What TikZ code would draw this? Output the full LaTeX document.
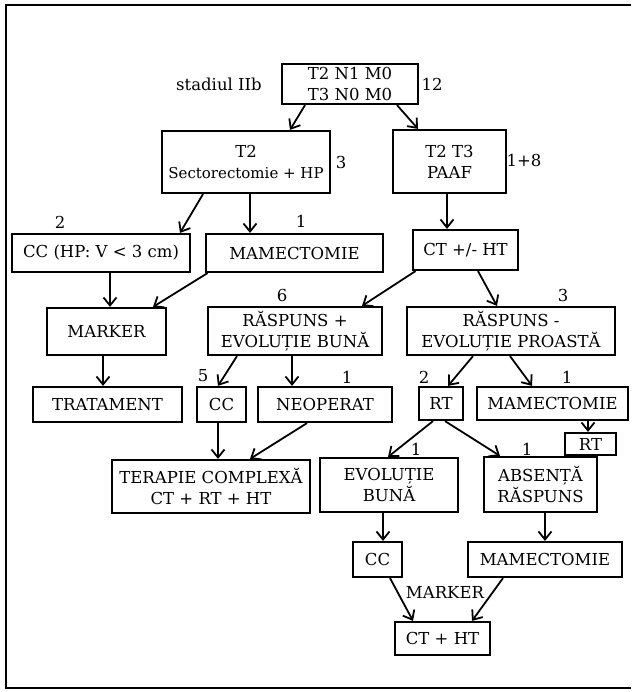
\documentclass[tikz,border=0pt]{standalone}
\usepackage{fontspec}
\setmainfont{DejaVu Serif}
\usetikzlibrary{arrows.meta}
\tikzset{
  box/.style={draw, line width=2.2pt, inner sep=0pt, align=center, font=\fontsize{16.5}{21}\selectfont},
  arr/.style={line width=1.8pt, -{Straight Barb[length=8pt,width=13pt,line width=1.8pt]}},
  num/.style={font=\fontsize{16.5}{18}\selectfont, inner sep=0pt},
  frame/.style={line width=2.2pt}
}
\begin{document}
\begin{tikzpicture}[x=1pt,y=-1pt]
\useasboundingbox (0,0) rectangle (631,692);
\coordinate (f1) at (631,5);
\coordinate (f2) at (6,5);
\coordinate (f3) at (6,688);
\coordinate (f4) at (631,688);
\draw[frame] (f1) -- (f2) -- (f3) -- (f4);

\node[box, minimum width=136, minimum height=40] (top) at (350,84) {T2 N1 M0\\T3 N0 M0};
\node[box, minimum width=168, minimum height=62] (sect) at (246,162) {T2\\{\fontsize{15}{21}\selectfont Sectorectomie + HP}};
\node[box, minimum width=113, minimum height=63] (paaf) at (449.5,161.5) {T2 T3\\PAAF};
\node[box, minimum width=178, minimum height=38] (cc1) at (101,253) {CC (HP: V < 3 cm)};
\node[box, minimum width=177, minimum height=38] (mam1) at (294.5,253) {MAMECTOMIE};
\node[box, minimum width=105, minimum height=40] (ct) at (465.5,250) {CT +/- HT};
\node[box, minimum width=119, minimum height=47] (marker) at (106.5,331.5) {MARKER};
\node[box, minimum width=174, minimum height=48] (rp) at (295,331) {RĂSPUNS +\\EVOLUȚIE BUNĂ};
\node[box, minimum width=208, minimum height=48] (rm) at (511,331) {RĂSPUNS -\\EVOLUȚIE PROASTĂ};
\node[box, minimum width=149, minimum height=35] (trat) at (107.5,404.5) {TRATAMENT};
\node[box, minimum width=49, minimum height=35] (cc2) at (221.5,404.5) {CC};
\node[box, minimum width=134, minimum height=35] (neo) at (325,404.5) {NEOPERAT};
\node[box, minimum width=44, minimum height=33] (rt) at (441,403.5) {RT};
\node[box, minimum width=151, minimum height=33] (mam2) at (552.5,403.5) {MAMECTOMIE};
\node[box, minimum width=51, minimum height=22] (rts) at (590.5,444) {RT};
\node[box, minimum width=198, minimum height=53] (ter) at (211,486.5) {TERAPIE COMPLEXĂ\\CT + RT + HT};
\node[box, minimum width=138, minimum height=54] (evo) at (389,485) {EVOLUȚIE\\BUNĂ};
\node[box, minimum width=113, minimum height=55] (abs) at (540.5,484.5) {ABSENȚĂ\\RĂSPUNS};
\node[box, minimum width=49, minimum height=35] (cc3) at (377.5,559.5) {CC};
\node[box, minimum width=154, minimum height=35] (mam3) at (545,559.5) {MAMECTOMIE};
\node[box, minimum width=95, minimum height=33] (cth) at (442.5,638.5) {CT + HT};

\node[num] (stad) at (219,84) {stadiul IIb};
\node[num] (n12) at (432,84) {12};
\node[num] (n3a) at (341,162) {3};
\node[num] (n18) at (524,160) {1+8};
\node[num] (n2a) at (60,222) {2};
\node[num] (n1a) at (301,221) {1};
\node[num] (n6) at (282,295) {6};
\node[num] (n3b) at (563,295) {3};
\node[num] (n5) at (203,376) {5};
\node[num] (n1b) at (347,377) {1};
\node[num] (n2b) at (424,377) {2};
\node[num] (n1c) at (567,377) {1};
\node[num] (n1d) at (416,449) {1};
\node[num] (n1e) at (527,449) {1};
\node[num] (mk) at (445,592) {MARKER};

\draw[arr] ([xshift=-45pt]top.south) -- ([xshift=44pt]sect.north);
\draw[arr] ([xshift=47pt]top.south) -- ([xshift=-31.5pt]paaf.north);
\draw[arr] ([xshift=-43pt]sect.south) -- ([xshift=79pt]cc1.north);
\draw[arr] ([xshift=4pt]sect.south) -- ([xshift=4pt]sect.south |- mam1.north);
\draw[arr] ([xshift=-2.5pt]paaf.south) -- ([xshift=-2.5pt]paaf.south |- ct.north);
\draw[arr] ([xshift=9pt]cc1.south) -- ([xshift=9pt]cc1.south |- marker.north);
\draw[arr] ([xshift=-87pt]mam1.south) -- ([xshift=46.5pt]marker.north);
\draw[arr] ([xshift=-50pt]ct.south) -- ([xshift=67pt]rp.north);
\draw[arr] ([xshift=12.5pt]ct.south) -- ([xshift=-14pt]rm.north);
\draw[arr] ([xshift=-3.5pt]marker.south) -- ([xshift=-3.5pt]marker.south |- trat.north);
\draw[arr] ([xshift=-58pt]rp.south) -- ([xshift=-3.5pt]cc2.north);
\draw[arr] ([xshift=-3pt]rp.south) -- ([xshift=-3pt]rp.south |- neo.north);
\draw[arr] ([xshift=-38pt]rm.south) -- ([xshift=7pt]rt.north);
\draw[arr] ([xshift=-1pt]rm.south) -- ([xshift=-20.5pt]mam2.north);
\draw[arr] ([xshift=35.5pt]mam2.south) -- ([xshift=35.5pt]mam2.south |- rts.north);
\draw[arr] ([xshift=-3.5pt]cc2.south) -- ([xshift=-3.5pt]cc2.south |- ter.north);
\draw[arr] ([xshift=-18pt]neo.south) -- ([xshift=39pt]ter.north);
\draw[arr] ([xshift=-8pt]rt.south) -- ([xshift=-1pt]evo.north);
\draw[arr] ([xshift=4pt]rt.south) -- ([xshift=-40.5pt]abs.north);
\draw[arr] ([xshift=-6pt]evo.south) -- ([xshift=-6pt]evo.south |- cc3.north);
\draw[arr] ([xshift=4.5pt]abs.south) -- ([xshift=4.5pt]abs.south |- mam3.north);
\draw[arr] ([xshift=12.5pt]cc3.south) -- ([xshift=-29.5pt]cth.north);
\draw[arr] ([xshift=-42pt]mam3.south) -- ([xshift=29.5pt]cth.north);
\end{tikzpicture}
\end{document}
